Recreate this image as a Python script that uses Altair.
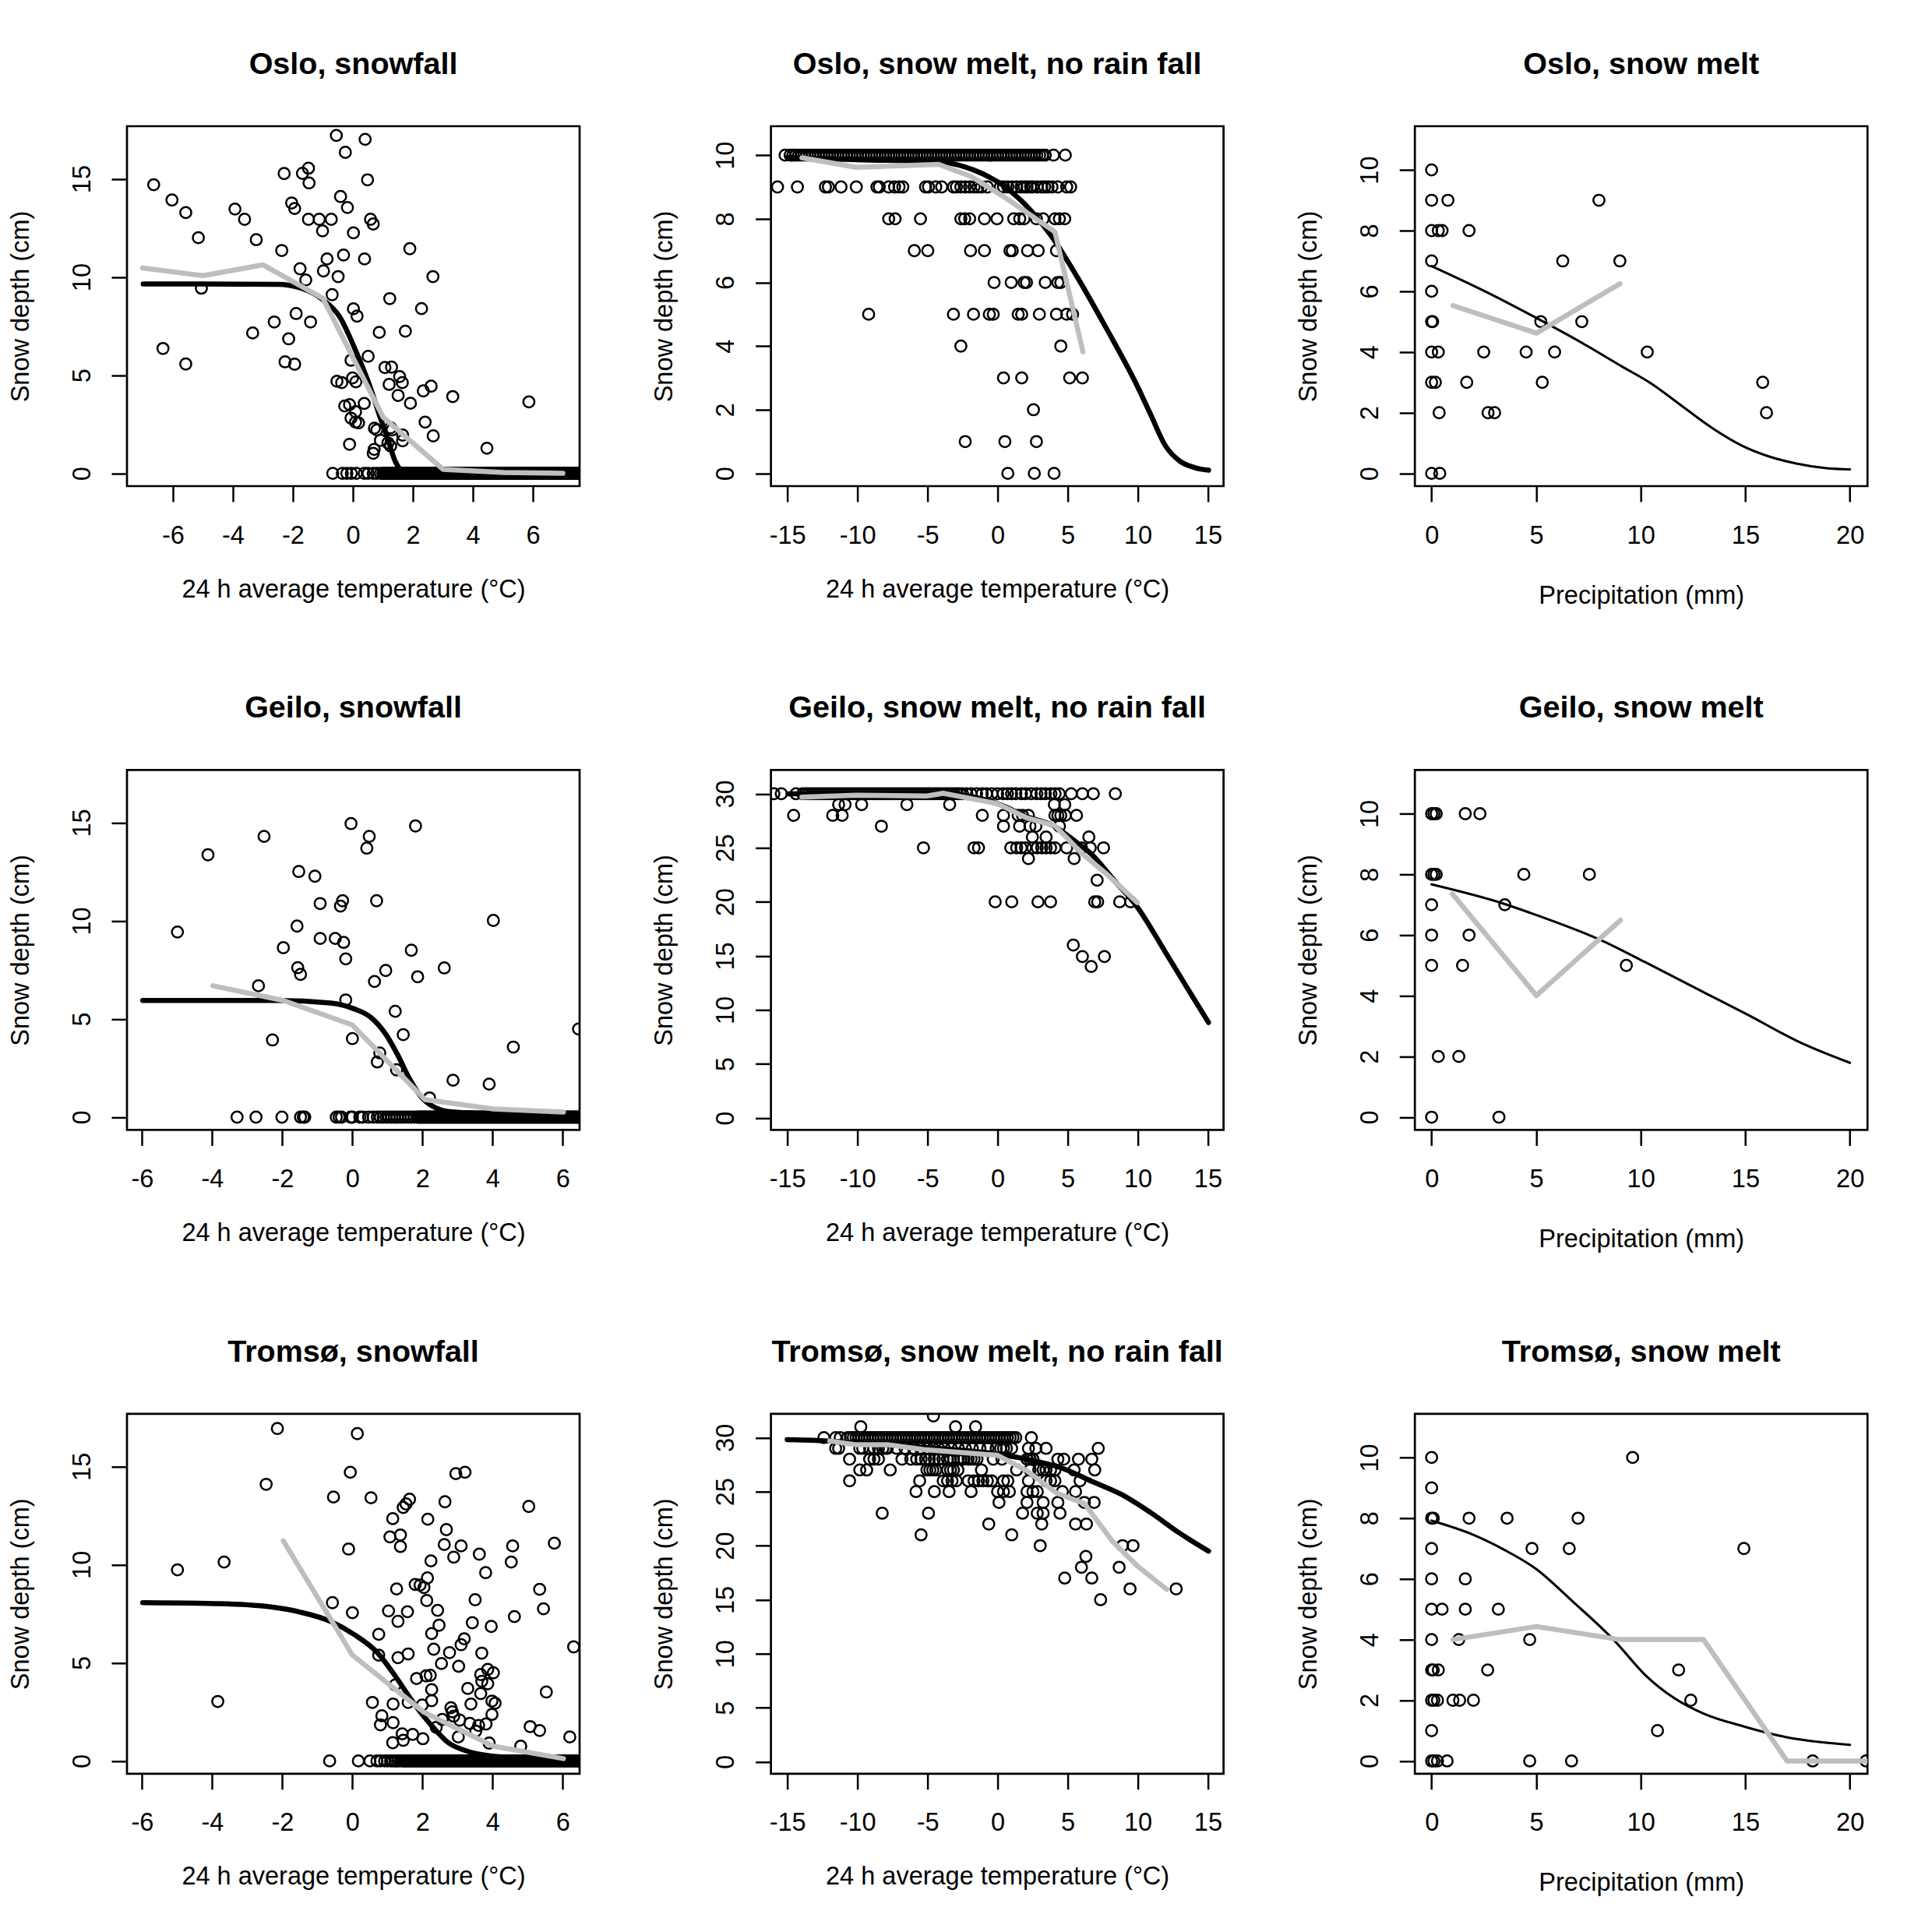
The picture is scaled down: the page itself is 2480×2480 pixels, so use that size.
import altair as alt
import pandas as pd

FONT = "Liberation Sans"
W, H = 581, 462
GREY = "#BEBEBE"

TEMP_LABEL = "24 h average temperature (°C)"
PRECIP_LABEL = "Precipitation (mm)"
Y_LABEL = "Snow depth (cm)"

# ---------------- Oslo, snowfall ----------------
p1_scatter = [(-6.64, 14.70), (-6.03, 13.92), (-5.57, 13.28), (-5.15, 12.0), (-3.93, 13.46), (-3.61, 12.94),
              (-3.22, 11.9), (-2.29, 15.27), (-1.68, 15.28), (-1.48, 15.54), (-1.46, 14.79), (-2.04, 13.77),
              (-1.94, 13.49), (-1.48, 12.94), (-1.12, 12.94), (-0.72, 12.94), (-1.01, 12.35), (-2.37, 11.35),
              (-1.76, 10.42), (-1.57, 9.85), (-0.98, 10.31), (-0.86, 10.92), (-0.31, 11.12), (-0.49, 10.02),
              (-0.69, 9.1), (-0.55, 17.21), (0.41, 17.01), (-0.25, 16.35), (0.49, 14.95), (-0.41, 14.10),
              (-0.18, 13.54), (0.59, 12.94), (0.68, 12.70), (0.02, 12.25), (0.39, 10.92), (1.90, 11.44),
              (2.67, 10.02), (-5.05, 9.43), (-6.33, 6.36), (-5.57, 5.57), (-3.34, 7.15), (-2.62, 7.71),
              (-2.14, 6.85), (-1.89, 8.14), (-1.41, 7.71), (-2.26, 5.68), (-1.94, 5.56), (0.02, 8.38),
              (0.14, 8.01), (1.23, 8.90), (2.29, 8.39), (0.88, 7.18), (1.75, 7.24), (0.51, 5.96), (-0.06, 5.76),
              (-0.53, 4.69), (-0.37, 4.62), (-0.01, 4.86), (0.10, 4.66), (1.07, 5.39), (1.29, 5.41), (1.56, 4.93),
              (1.65, 4.62), (1.21, 4.53), (2.35, 4.20), (2.61, 4.44), (1.51, 3.97), (1.92, 3.57), (3.33, 3.91),
              (5.87, 3.64), (-0.27, 3.43), (-0.11, 3.50), (0.38, 3.56), (0.09, 3.14), (-0.06, 2.81), (0.09, 2.61),
              (0.19, 2.57), (0.72, 2.30), (0.80, 2.21), (1.26, 2.32), (1.31, 2.21), (1.66, 1.95), (1.66, 1.66),
              (0.92, 1.68), (1.17, 1.55), (1.26, 1.39), (0.71, 1.22), (0.68, 1.02), (-0.11, 1.48), (2.41, 2.61),
              (2.68, 1.91), (4.47, 1.28)]
p1_zero_a = [-0.67, -0.35, -0.20, -0.05, 0.12, 0.38, 0.51, 0.68, 0.80, 0.92,
             1.00, 1.08, 1.16, 1.24, 1.32, 1.40, 1.48, 1.56, 1.64, 1.72, 1.80, 1.88, 1.96, 2.04, 2.12, 2.20,
             2.28, 2.36, 2.44, 2.52, 2.60, 2.68, 2.76, 2.84, 2.92, 3.00, 3.08, 3.16, 3.24, 3.32, 3.40, 3.48,
             3.56, 3.64, 3.72, 3.80, 3.88, 3.96, 4.04, 4.12, 4.20, 4.28, 4.36, 4.44, 4.52, 4.60, 4.68, 4.76,
             4.84, 4.92, 5.00, 5.08, 5.16, 5.24, 5.32, 5.40, 5.48, 5.56, 5.64, 5.72, 5.80, 5.88, 5.96, 6.04,
             6.12, 6.20, 6.28, 6.36, 6.44, 6.52, 6.60, 6.68, 6.76, 6.84, 6.92, 7.00, 7.08, 7.16, 7.24, 7.32,
             7.40, 7.48]
p1_zero_b = [1.04, 1.12, 1.20, 1.28, 1.36, 1.44, 1.52, 1.60, 1.68, 1.76, 1.84, 1.92, 2.00, 2.08, 2.16, 2.24,
             2.32, 2.40, 2.48, 2.56, 2.64, 2.72, 2.80, 2.88, 2.96, 3.04, 3.12, 3.20, 3.28, 3.36, 3.44, 3.52,
             3.60, 3.68, 3.76, 3.84, 3.92, 4.00, 4.08, 4.16, 4.24, 4.32, 4.40, 4.48, 4.56, 4.64, 4.72, 4.80,
             4.88, 4.96, 5.04, 5.12, 5.20, 5.28, 5.36, 5.44, 5.52, 5.60, 5.68, 5.76, 5.84, 5.92, 6.00, 6.08,
             6.16, 6.24, 6.32, 6.40, 6.48, 6.56, 6.64, 6.72, 6.80, 6.88, 6.96, 7.04, 7.12, 7.20, 7.28, 7.36,
             7.44, 7.52]
p1_rows = {0: p1_zero_a + p1_zero_b}
p1_fit_x = [-6.99, -2.51, -1.72, -1.03, -0.45, 0.13, 0.60, 0.90, 1.16, 1.42, 1.62, 2.5, 4.0, 7.0]
p1_fit_y = [9.65, 9.63, 9.43, 8.88, 8.0, 6.12, 4.3, 2.9, 1.78, 0.59, 0.2, 0.12, 0.1, 0.09]
p1_grey_x = [-7.01, -4.98, -3.0, -1.0, 1.01, 3.01, 5.02, 7.0]
p1_grey_y = [10.46, 10.07, 10.62, 8.92, 2.86, 0.2, 0.04, 0.0]

# ---------------- Oslo, snow melt, no rain fall ----------------
p2_scatter = []
p2_rows = {
    10: [-15.16, -14.8, -14.6, -14.4, -14.2, -14.0, -13.8, -13.6, -13.4, -13.2, -13.0, -12.8, -12.6, -12.4,
         -12.2, -12.0, -11.8, -11.6, -11.4, -11.2, -11.0, -10.8, -10.6, -10.4, -10.2, -10.0, -9.8, -9.6, -9.4,
         -9.2, -9.0, -8.8, -8.6, -8.4, -8.2, -8.0, -7.8, -7.6, -7.4, -7.2, -7.0, -6.8, -6.6, -6.4, -6.2, -6.0,
         -5.8, -5.6, -5.4, -5.2, -5.0, -4.8, -4.6, -4.4, -4.2, -4.0, -3.8, -3.6, -3.4, -3.2, -3.0, -2.8, -2.6,
         -2.4, -2.2, -2.0, -1.8, -1.6, -1.4, -1.2, -1.0, -0.8, -0.6, -0.4, -0.2, 0.0, 0.2, 0.4, 0.6, 0.8, 1.0,
         1.2, 1.4, 1.6, 1.8, 2.0, 2.2, 2.4, 2.6, 2.8, 3.0, 3.2, 3.4, 3.99, 4.83],
    9: [-15.70, -14.28, -12.28, -12.07, -11.17, -10.08, -8.61, -8.44, -7.77, -7.35, -7.03, -6.76, -5.14, -4.93,
        -4.41, -3.99, -3.15, -2.94, -2.62, -2.31, -2.0, -1.68, -1.4, -1.15, -0.73, 0.2, 0.42, 0.73, 1.05, 1.36,
        1.68, 1.9, 2.10, 2.35, 2.52, 2.83, 3.15, 3.36, 3.6, 3.88, 4.3, 4.93, 5.21],
    8: [-7.77, -7.31, -5.50, -2.62, -2.35, -1.99, -0.94, -0.04, 1.15, 1.58, 1.89, 2.77, 3.25, 4.09, 4.41, 4.79],
    7: [-5.94, -4.98, -1.93, -0.94, 0.88, 1.05, 2.14, 2.90, 4.20],
    6: [-0.25, 0.97, 1.89, 2.06, 3.40, 4.30, 4.51],
    5: [-9.20, -3.15, -1.72, -0.59, -0.31, 1.47, 1.72, 2.98, 4.20, 4.93, 5.35],
    4: [-2.62, 4.51],
    3: [0.42, 1.72, 5.14, 6.05],
    2: [2.56],
    1: [-2.31, 0.52, 2.77],
    0: [0.73, 2.62, 4.03],
}
p2_fit_x = [-15.0, -14.07, -10.08, -3.99, -1.68, 0.42, 2.10, 3.78, 5.67, 7.77, 9.87, 10.92, 11.97, 13.02, 14.07, 15.05]
p2_fit_y = [9.93, 9.92, 9.86, 9.78, 9.53, 9.04, 8.39, 7.49, 6.18, 4.55, 2.83, 1.85, 0.87, 0.38, 0.18, 0.10]
p2_grey_x = [-13.96, -10.08, -4.20, -1.89, 0.63, 4.09, 6.09]
p2_grey_y = [9.92, 9.62, 9.71, 9.33, 8.64, 7.59, 3.82]

# ---------------- Oslo, snow melt ----------------
p3_scatter = [(0, 10), (0, 9), (0.78, 9), (0, 8), (0.32, 8), (0.50, 8), (1.79, 8), (8.0, 9), (0, 7), (6.27, 7),
              (9.0, 7), (0, 6), (0, 5), (0.05, 5), (5.22, 5), (7.18, 5), (0, 4), (0.32, 4), (2.49, 4), (4.52, 4),
              (5.88, 4), (10.31, 4), (0, 3), (0.18, 3), (1.68, 3), (5.29, 3), (15.83, 3), (0.36, 2), (2.70, 2),
              (3.01, 2), (16.01, 2), (0, 0), (0.39, 0)]
p3_rows = {}
p3_fit_x = [0, 2.49, 5.01, 7.39, 9.08, 10.48, 12.16, 13.56, 14.82, 16.08, 17.48, 18.88, 20.0]
p3_fit_y = [6.83, 6.02, 5.12, 4.22, 3.53, 2.97, 2.12, 1.43, 0.92, 0.57, 0.32, 0.17, 0.13]
p3_grey_x = [1.02, 5.01, 9.0]
p3_grey_y = [5.53, 4.62, 6.25]

# ---------------- Geilo, snowfall ----------------
p4_scatter = [(-4.12, 13.36), (-4.99, 9.43), (-2.52, 14.30), (-1.53, 12.51), (-1.07, 12.27), (-0.92, 10.88),
              (-0.28, 11.02), (-0.34, 10.75), (-0.04, 14.95), (0.48, 14.30), (0.41, 13.70), (1.80, 14.83),
              (0.69, 11.02), (-1.58, 9.73), (-1.97, 8.63), (-0.92, 9.10), (-0.49, 9.10), (-0.25, 8.90),
              (-0.19, 8.06), (-1.56, 7.61), (-1.48, 7.27), (-2.68, 6.69), (0.95, 7.47), (1.68, 8.50), (0.63, 6.91),
              (1.86, 7.15), (2.62, 7.60), (4.02, 10.02), (-0.19, 5.97), (1.22, 5.39), (-2.28, 3.93), (0.0, 4.0),
              (1.45, 4.20), (0.78, 3.27), (0.71, 2.81), (1.26, 2.41), (4.59, 3.57), (6.45, 4.49), (2.87, 1.88),
              (3.90, 1.68), (2.20, 0.98)]
p4_zero_a = [-3.29, -2.75, -2.01, -1.48, -1.40, -1.36, -0.46, -0.38, -0.31, -0.05, 0.0, 0.21, 0.29, 0.46, 0.59,
             0.71, 0.80, 0.88, 0.96, 1.04, 1.12, 1.20, 1.28, 1.36, 1.44, 1.52, 1.60, 1.68, 1.76,
             1.85, 1.92, 1.99, 2.06, 2.13, 2.20, 2.27, 2.34, 2.41, 2.48, 2.55, 2.62, 2.69, 2.76, 2.83, 2.90,
             2.97, 3.04, 3.11, 3.18, 3.25, 3.32, 3.39, 3.46, 3.53, 3.60, 3.67, 3.74, 3.81, 3.88, 3.95, 4.02,
             4.09, 4.16, 4.23, 4.30, 4.37, 4.44, 4.51, 4.58, 4.65, 4.72, 4.79, 4.86, 4.93, 5.00, 5.07, 5.14,
             5.21, 5.28, 5.35, 5.42, 5.49, 5.56, 5.63, 5.70, 5.77, 5.84, 5.91, 5.98, 6.05, 6.12, 6.19, 6.26,
             6.33, 6.40, 6.47]
p4_zero_b = [1.89, 1.96, 2.03, 2.10, 2.17, 2.24, 2.31, 2.38, 2.45, 2.52, 2.59, 2.66, 2.73, 2.80, 2.87, 2.94,
             3.01, 3.08, 3.15, 3.22, 3.29, 3.36, 3.43, 3.50, 3.57, 3.64, 3.71, 3.78, 3.85, 3.92, 3.99, 4.06,
             4.13, 4.20, 4.27, 4.34, 4.41, 4.48, 4.55, 4.62, 4.69, 4.76, 4.83, 4.90, 4.97, 5.04, 5.11, 5.18,
             5.25, 5.32, 5.39, 5.46, 5.53, 5.60, 5.67, 5.74, 5.81, 5.88, 5.95, 6.02, 6.09, 6.16, 6.23, 6.30,
             6.37, 6.44, 6.51]
p4_rows = {0: p4_zero_a + p4_zero_b}
p4_fit_x = [-5.98, -2.14, -0.63, 0.04, 0.54, 0.96, 1.30, 1.63, 1.97, 2.39, 2.72, 3.56, 4.5, 6.3]
p4_fit_y = [5.94, 5.94, 5.81, 5.52, 5.06, 4.20, 3.14, 1.95, 1.02, 0.46, 0.29, 0.20, 0.15, 0.1]
p4_grey_x = [-3.98, -1.97, 0.0, 2.07, 4.02, 6.02]
p4_grey_y = [6.69, 5.94, 4.69, 0.89, 0.42, 0.26]

# ---------------- Geilo, snow melt, no rain fall ----------------
p5_scatter = [(5.40, 16.0), (6.05, 14.94), (7.62, 14.94), (6.68, 14.02)]
p5_rows = {
    30: [-15.96, -15.43, -14.38, -13.9, -13.7, -13.5, -13.3, -13.1, -12.9, -12.7, -12.5, -12.3, -12.1, -11.9,
         -11.7, -11.5, -11.3, -11.1, -10.9, -10.7, -10.5, -10.3, -10.1, -9.9, -9.7, -9.5, -9.3, -9.1, -8.9, -8.7,
         -8.5, -8.3, -8.1, -7.9, -7.7, -7.5, -7.3, -7.1, -6.9, -6.7, -6.5, -6.3, -6.1, -5.9, -5.7, -5.5, -5.3,
         -5.1, -4.9, -4.7, -4.5, -4.3, -4.1, -3.9, -3.7, -3.5, -3.3, -3.1, -2.9, -2.7, -2.5, -2.2, -1.9, -1.5,
         -1.1, -0.8, -0.4, 0.0, 0.4, 0.7, 1.0, 1.3, 1.7, 2.0, 2.4, 2.8, 3.1, 3.4, 3.8, 4.1, 4.4, 5.25, 6.05,
         6.83, 8.40],
    29: [-11.34, -10.88, -9.70, -6.47, -3.42, 4.05, 4.79],
    28: [-14.55, -11.76, -11.09, -1.09, 0.42, 1.47, 1.78, 2.20, 4.09, 4.30, 4.51, 4.83, 5.63],
    27: [-8.29, 0.42, 1.57, 2.31, 2.73, 4.41],
    26: [2.48, 3.46, 6.51],
    25: [-5.29, -1.68, -1.36, 0.94, 1.36, 1.68, 1.99, 2.52, 2.83, 3.15, 3.46, 3.78, 4.09, 4.93, 5.98, 6.61, 7.56],
    24: [2.20, 5.46],
    22: [7.10],
    20: [-0.17, 1.01, 2.88, 3.78, 6.93, 7.14, 8.71, 9.49],
}
p5_fit_x = [-14.95, -3.78, 0.0, 2.10, 3.99, 5.67, 6.72, 8.40, 9.87, 11.97, 13.44, 15.05]
p5_fit_y = [30.0, 30.0, 29.08, 27.88, 27.04, 25.47, 24.39, 21.86, 19.69, 15.35, 12.22, 8.84]
p5_grey_x = [-13.96, -10.08, -5.04, -3.88, 0.0, 2.10, 4.09, 6.09, 7.77, 9.97]
p5_grey_y = [29.69, 29.86, 29.8, 30.05, 29.08, 27.76, 27.04, 24.39, 22.58, 19.93]

# ---------------- Geilo, snow melt ----------------
p6_scatter = [(0, 10), (0.11, 10), (0.22, 10), (1.61, 10), (2.31, 10), (0, 8), (0.11, 8), (0.22, 8), (4.41, 8),
              (7.54, 8), (0, 7), (3.50, 7), (0, 6), (1.79, 6), (0, 5), (1.48, 5), (9.31, 5), (0.32, 2),
              (1.30, 2), (0, 0), (3.22, 0)]
p6_rows = {}
p6_fit_x = [0, 3.47, 5.01, 8.10, 10.20, 13.0, 15.10, 17.62, 20.0]
p6_fit_y = [7.67, 7.03, 6.66, 5.83, 5.11, 4.12, 3.38, 2.46, 1.79]
p6_grey_x = [0.99, 5.01, 9.03]
p6_grey_y = [7.36, 4.01, 6.49]

# ---------------- Tromsø, snowfall ----------------
p7_scatter = [(-2.14, 16.93), (0.14, 16.67), (-0.06, 14.70), (-2.46, 14.09), (-0.54, 13.44), (0.53, 13.40),
              (2.95, 14.63), (3.21, 14.70), (1.63, 13.33), (1.53, 13.09), (1.45, 12.91), (2.64, 13.20),
              (5.03, 12.96), (1.15, 12.34), (2.15, 12.31), (2.68, 11.78), (5.76, 11.09), (1.07, 11.41),
              (1.37, 11.51), (1.37, 10.92), (-0.11, 10.79), (2.62, 11.02), (3.10, 10.95), (2.89, 10.38),
              (3.62, 10.53), (4.57, 10.95), (4.53, 10.13), (2.24, 10.19), (3.80, 9.59), (-4.99, 9.73),
              (-3.66, 10.13), (1.26, 8.76), (1.79, 8.99), (1.93, 8.96), (2.04, 8.83), (2.14, 9.32), (2.12, 8.17),
              (3.50, 8.21), (5.34, 8.74), (5.45, 7.75), (-0.57, 8.06), (0.0, 7.55), (1.03, 7.64), (1.57, 7.60),
              (1.30, 7.11), (2.43, 7.67), (2.47, 6.91), (2.26, 6.49), (3.42, 7.04), (3.96, 6.85), (4.62, 7.35),
              (0.75, 6.45), (3.19, 6.22), (3.10, 5.92), (2.32, 5.69), (2.77, 5.52), (3.69, 5.49), (6.31, 5.81),
              (0.75, 5.39), (1.30, 5.26), (1.59, 5.45), (2.54, 4.96), (3.03, 4.82), (1.83, 4.20), (2.10, 4.33),
              (2.22, 4.36), (3.66, 4.40), (3.86, 4.66), (4.02, 4.49), (3.69, 4.06), (3.86, 3.93), (1.22, 3.87),
              (2.26, 3.63), (3.29, 3.69), (5.53, 3.51), (3.66, 3.43), (0.57, 2.98), (1.16, 2.90), (1.59, 2.98),
              (2.26, 3.07), (1.99, 2.85), (3.38, 2.90), (3.98, 3.05), (4.07, 2.94), (2.81, 2.71), (2.85, 2.50),
              (2.89, 2.28), (3.98, 2.37), (0.84, 2.30), (0.80, 1.84), (1.16, 1.95), (2.56, 2.11), (3.06, 2.08),
              (3.35, 1.91), (3.60, 1.81), (3.81, 1.88), (2.39, 1.71), (3.52, 1.52), (5.07, 1.75), (5.34, 1.55),
              (1.42, 1.38), (1.72, 1.35), (2.01, 1.13), (1.45, 1.05), (1.15, 0.93), (3.02, 1.22), (3.90, 0.91),
              (4.80, 0.75), (6.20, 1.22), (-3.84, 3.03)]
p7_zero_a = [-0.65, 0.17, 0.50, 0.70, 0.80, 0.92, 1.00, 1.09, 1.15,
             1.22, 1.29, 1.36, 1.43, 1.50, 1.57, 1.64, 1.71, 1.78, 1.85, 1.92, 1.99, 2.06, 2.13, 2.20, 2.27,
             2.34, 2.41, 2.48, 2.55, 2.62, 2.69, 2.76, 2.83, 2.90, 2.97, 3.04, 3.11, 3.18, 3.25, 3.32, 3.39,
             3.46, 3.53, 3.60, 3.67, 3.74, 3.81, 3.88, 3.95, 4.02, 4.09, 4.16, 4.23, 4.30, 4.37, 4.44, 4.51,
             4.58, 4.65, 4.72, 4.79, 4.86, 4.93, 5.00, 5.07, 5.14, 5.21, 5.28, 5.35, 5.42, 5.49, 5.56, 5.63,
             5.70, 5.77, 5.84, 5.91, 5.98, 6.05, 6.12, 6.19, 6.26, 6.33, 6.40, 6.47]
p7_zero_b = [1.47, 1.54, 1.61, 1.68, 1.75, 1.82, 1.89, 1.96, 2.03, 2.10, 2.17, 2.24, 2.31, 2.38, 2.45, 2.52,
             2.59, 2.66, 2.73, 2.80, 2.87, 2.94, 3.01, 3.08, 3.15, 3.22, 3.29, 3.36, 3.43, 3.50, 3.57, 3.64,
             3.71, 3.78, 3.85, 3.92, 3.99, 4.06, 4.13, 4.20, 4.27, 4.34, 4.41, 4.48, 4.55, 4.62, 4.69, 4.76,
             4.83, 4.90, 4.97, 5.04, 5.11, 5.18, 5.25, 5.32, 5.39, 5.46, 5.53, 5.60, 5.67, 5.74, 5.81, 5.88,
             5.95, 6.02, 6.09, 6.16, 6.23, 6.30, 6.37, 6.44, 6.51]
p7_rows = {0: p7_zero_a + p7_zero_b}
p7_fit_x = [-5.98, -3.81, -2.31, -1.47, -0.63, 0.04, 0.71, 1.22, 1.72, 2.22, 2.72, 3.23, 3.98, 5.24, 6.48]
p7_fit_y = [8.06, 8.01, 7.84, 7.57, 7.11, 6.45, 5.52, 4.33, 3.01, 1.88, 0.95, 0.52, 0.25, 0.12, 0.07]
p7_grey_x = [-1.97, 0.0, 2.04, 4.02, 6.02]
p7_grey_y = [11.21, 5.39, 2.48, 0.75, 0.12]

# ---------------- Tromsø, snow melt, no rain fall ----------------
p8_scatter = [(9.45, 16.0), (12.74, 16.0), (7.35, 15.0)]
p8_rows = {
    32: [-4.58],
    31: [-9.76, -3.0, -1.57],
    30: [-12.39, -11.55, -11.23, -10.7, -10.5, -10.3, -10.1, -9.9, -9.7, -9.5, -9.3, -9.1, -8.9, -8.7, -8.5,
         -8.3, -8.1, -7.9, -7.7, -7.5, -7.3, -7.1, -6.9, -6.7, -6.5, -6.3, -6.1, -5.9, -5.7, -5.5, -5.3, -5.1,
         -4.9, -4.7, -4.5, -4.3, -4.1, -3.9, -3.7, -3.5, -3.3, -3.1, -2.9, -2.7, -2.5, -2.3, -2.1, -1.9, -1.7,
         -1.5, -1.3, -1.1, -0.9, -0.7, -0.5, -0.3, -0.1, 0.1, 0.3, 0.5, 0.7, 0.9, 1.1, 1.3, 2.41],
    29: [-11.55, -11.34, -9.83, -9.62, -9.13, -8.82, -8.5, -8.19, -7.98, -7.87, -7.2, -6.6, -6.0, -5.5, -5.0,
         -4.6, -4.2, -3.8, -3.3, -2.8, -2.3, -1.8, -1.26, -0.7, -0.10, 0.21, 0.42, 0.63, 1.0, 2.20, 2.73, 3.46,
         7.18],
    28: [-10.56, -9.13, -8.82, -8.50, -6.82, -6.19, -5.77, -5.46, -5.14, -4.87, -4.51, -4.2, -3.9, -3.57,
         -3.36, -3.15, -2.83, -2.62, -2.41, -2.10, -1.89, -1.68, -1.47, -0.31, 0.31, 2.10, 2.31, 2.52, 4.30,
         4.72, 5.77, 6.72],
    27: [-9.83, -9.34, -7.66, -5.04, -4.83, -4.62, -4.41, -3.57, -3.36, -3.15, -2.83, -1.15, 1.36, 2.31, 2.94,
         3.25, 3.46, 3.78, 4.09, 5.46, 6.93],
    26: [-10.56, -5.56, -3.88, -3.57, -3.25, -2.94, -2.10, -1.68, -1.36, -1.05, -0.73, -0.42, 0.42, 0.73, 2.20,
         3.46, 3.78, 4.09, 5.88],
    25: [-5.82, -4.51, -3.46, -1.89, 0.0, 0.42, 0.84, 2.10, 2.52, 2.83, 4.62, 5.56],
    24: [0.10, 2.10, 3.25, 4.30, 6.19, 6.89],
    23: [-8.23, -4.93, 1.78, 2.83, 3.25, 4.45],
    22: [-0.63, 3.15, 5.56, 6.34],
    21: [-5.46, 1.01],
    20: [3.04, 8.92, 9.66],
    19: [6.30],
    18: [5.98, 8.67],
    17: [4.79, 6.72],
}
p8_fit_x = [-15.01, -12.18, -7.98, -3.78, 0.0, 2.52, 4.62, 6.72, 8.82, 10.92, 13.02, 15.05]
p8_fit_y = [29.81, 29.69, 29.33, 28.96, 28.48, 27.88, 27.16, 25.95, 24.75, 23.06, 21.13, 19.49]
p8_grey_x = [-11.97, -10.08, -7.77, -5.25, 0.0, 2.10, 4.20, 6.19, 8.19, 9.97, 12.07]
p8_grey_y = [29.69, 29.33, 29.33, 28.89, 28.36, 26.92, 24.87, 23.90, 20.41, 18.12, 15.95]

# ---------------- Tromsø, snow melt ----------------
p9_scatter = [(0, 10), (9.61, 10), (0, 9), (0, 8), (0.08, 8), (1.79, 8), (3.61, 8), (7.0, 8), (0, 7), (4.80, 7),
              (6.58, 7), (14.93, 7), (0, 6), (1.61, 6), (0, 5), (0.50, 5), (1.61, 5), (3.19, 5), (0, 4),
              (1.30, 4), (4.69, 4), (0, 3), (0.08, 3), (0.32, 3), (2.68, 3), (11.81, 3), (0, 2), (0.11, 2),
              (0.28, 2), (1.02, 2), (1.34, 2), (2.0, 2), (12.39, 2), (0, 1), (10.8, 1), (0, 0), (0.11, 0),
              (0.28, 0), (0.74, 0), (4.69, 0), (6.69, 0), (18.22, 0), (20.77, 0)]
p9_rows = {}
p9_fit_x = [0, 1.79, 3.47, 5.01, 6.69, 8.80, 10.20, 11.6, 13.0, 14.96, 16.92, 18.6, 20.0]
p9_fit_y = [7.92, 7.51, 6.96, 6.32, 5.29, 3.92, 2.84, 2.07, 1.56, 1.13, 0.79, 0.62, 0.53]
p9_grey_x = [1.02, 5.01, 9.0, 13.0, 16.99, 21.0]
p9_grey_y = [4.0, 4.43, 4.0, 4.0, 0.0, 0.0]

# axis ranges / ticks
XD_SF_OSLO = [-7.53, 7.56]
XD_SF = [-6.43, 6.48]
XD_NR = [-16.17, 16.12]
XD_PR = [-0.80, 20.84]
YD_SF = [-0.65, 17.68]
YD_NR_OSLO = [-0.40, 10.91]
YD_NR = [-1.10, 32.2]
YD_PR = [-0.42, 11.44]
XT_SF = [-6, -4, -2, 0, 2, 4, 6]
XT_NR = [-15, -10, -5, 0, 5, 10, 15]
XT_PR = [0, 5, 10, 15, 20]
YT_SF = [0, 5, 10, 15]
YT_10 = [0, 2, 4, 6, 8, 10]
YT_30 = [0, 5, 10, 15, 20, 25, 30]


def panel(title, scatter, rows, fx, fy, gx, gy, xdom, ydom, xticks, yticks, xtitle, fit_w, title_y):
    xs = [p[0] for p in scatter]
    ys = [p[1] for p in scatter]
    for yv, xl in rows.items():
        xs += list(xl)
        ys += [yv] * len(xl)
    pts = pd.DataFrame({"x": xs, "y": ys})
    fit = pd.DataFrame({"x": fx, "y": fy})
    gr = pd.DataFrame({"x": gx, "y": gy})
    X = alt.X("x:Q", scale=alt.Scale(domain=xdom, nice=False, zero=False),
              axis=alt.Axis(values=xticks, title=xtitle, titleX=W / 2, titleY=title_y,
                            labelExpr="'' + datum.value"))
    Y = alt.Y("y:Q", scale=alt.Scale(domain=ydom, nice=False, zero=False),
              axis=alt.Axis(values=yticks, title=Y_LABEL, titleX=-127, titleY=H / 2,
                            labelExpr="'' + datum.value"))
    p = alt.Chart(pts).mark_point(shape="circle", filled=False, size=205, color="black",
                                  strokeWidth=2.5, opacity=1, clip=True).encode(x=X, y=Y)
    f = alt.Chart(fit).mark_line(color="black", strokeWidth=fit_w, interpolate="monotone",
                                 strokeCap="round", strokeJoin="round", clip=True).encode(x=X, y=Y)
    g = alt.Chart(gr).mark_line(color=GREY, strokeWidth=6.5, strokeCap="round",
                                strokeJoin="round", clip=True).encode(x=X, y=Y)
    return alt.layer(p, f, g).properties(width=W, height=H, title=title)


T1, T2 = 142, 150
panels = [
    panel("Oslo, snowfall", p1_scatter, p1_rows, p1_fit_x, p1_fit_y, p1_grey_x, p1_grey_y,
          XD_SF_OSLO, YD_SF, XT_SF, YT_SF, TEMP_LABEL, 6.5, T1),
    panel("Oslo, snow melt, no rain fall", p2_scatter, p2_rows, p2_fit_x, p2_fit_y, p2_grey_x, p2_grey_y,
          XD_NR, YD_NR_OSLO, XT_NR, YT_10, TEMP_LABEL, 6.5, T1),
    panel("Oslo, snow melt", p3_scatter, p3_rows, p3_fit_x, p3_fit_y, p3_grey_x, p3_grey_y,
          XD_PR, YD_PR, XT_PR, YT_10, PRECIP_LABEL, 3.1, T2),
    panel("Geilo, snowfall", p4_scatter, p4_rows, p4_fit_x, p4_fit_y, p4_grey_x, p4_grey_y,
          XD_SF, YD_SF, XT_SF, YT_SF, TEMP_LABEL, 6.5, T1),
    panel("Geilo, snow melt, no rain fall", p5_scatter, p5_rows, p5_fit_x, p5_fit_y, p5_grey_x, p5_grey_y,
          XD_NR, YD_NR, XT_NR, YT_30, TEMP_LABEL, 6.5, T1),
    panel("Geilo, snow melt", p6_scatter, p6_rows, p6_fit_x, p6_fit_y, p6_grey_x, p6_grey_y,
          XD_PR, YD_PR, XT_PR, YT_10, PRECIP_LABEL, 3.1, T2),
    panel("Tromsø, snowfall", p7_scatter, p7_rows, p7_fit_x, p7_fit_y, p7_grey_x, p7_grey_y,
          XD_SF, YD_SF, XT_SF, YT_SF, TEMP_LABEL, 6.5, T1),
    panel("Tromsø, snow melt, no rain fall", p8_scatter, p8_rows, p8_fit_x, p8_fit_y, p8_grey_x, p8_grey_y,
          XD_NR, YD_NR, XT_NR, YT_30, TEMP_LABEL, 6.5, T1),
    panel("Tromsø, snow melt", p9_scatter, p9_rows, p9_fit_x, p9_fit_y, p9_grey_x, p9_grey_y,
          XD_PR, YD_PR, XT_PR, YT_10, PRECIP_LABEL, 3.1, T2),
]

chart = alt.concat(*panels, columns=3,
                   spacing=alt.RowColnumber(row=364.4, column=245.6)).properties(
    bounds="flush",
    padding={"left": 8, "top": 61, "right": 10, "bottom": 10},
    background="white",
).configure_view(
    stroke="black", strokeWidth=2.7
).configure_axis(
    domain=False, grid=False, ticks=True, tickColor="black", tickWidth=2.5, tickSize=20,
    labelFont=FONT, labelFontSize=32.5, labelColor="black", labelOverlap=False, labelFlush=False,
    titleFont=FONT, titleFontSize=32.5, titleFontWeight="normal", titleColor="black",
).configure_axisX(
    labelBaseline="alphabetic", labelPadding=53, labelAlign="center",
    titleBaseline="alphabetic", titleAlign="center", titleAngle=0,
).configure_axisY(
    labelAngle=270, labelAlign="center", labelBaseline="alphabetic", labelPadding=28,
    titleAngle=270, titleAlign="center", titleBaseline="alphabetic",
).configure_title(
    font=FONT, fontSize=39.5, fontWeight="bold", color="black", anchor="middle",
    offset=58.5, baseline="alphabetic", frame="group",
)

chart.save("out.html", embed_options={"renderer": "svg", "actions": False})
